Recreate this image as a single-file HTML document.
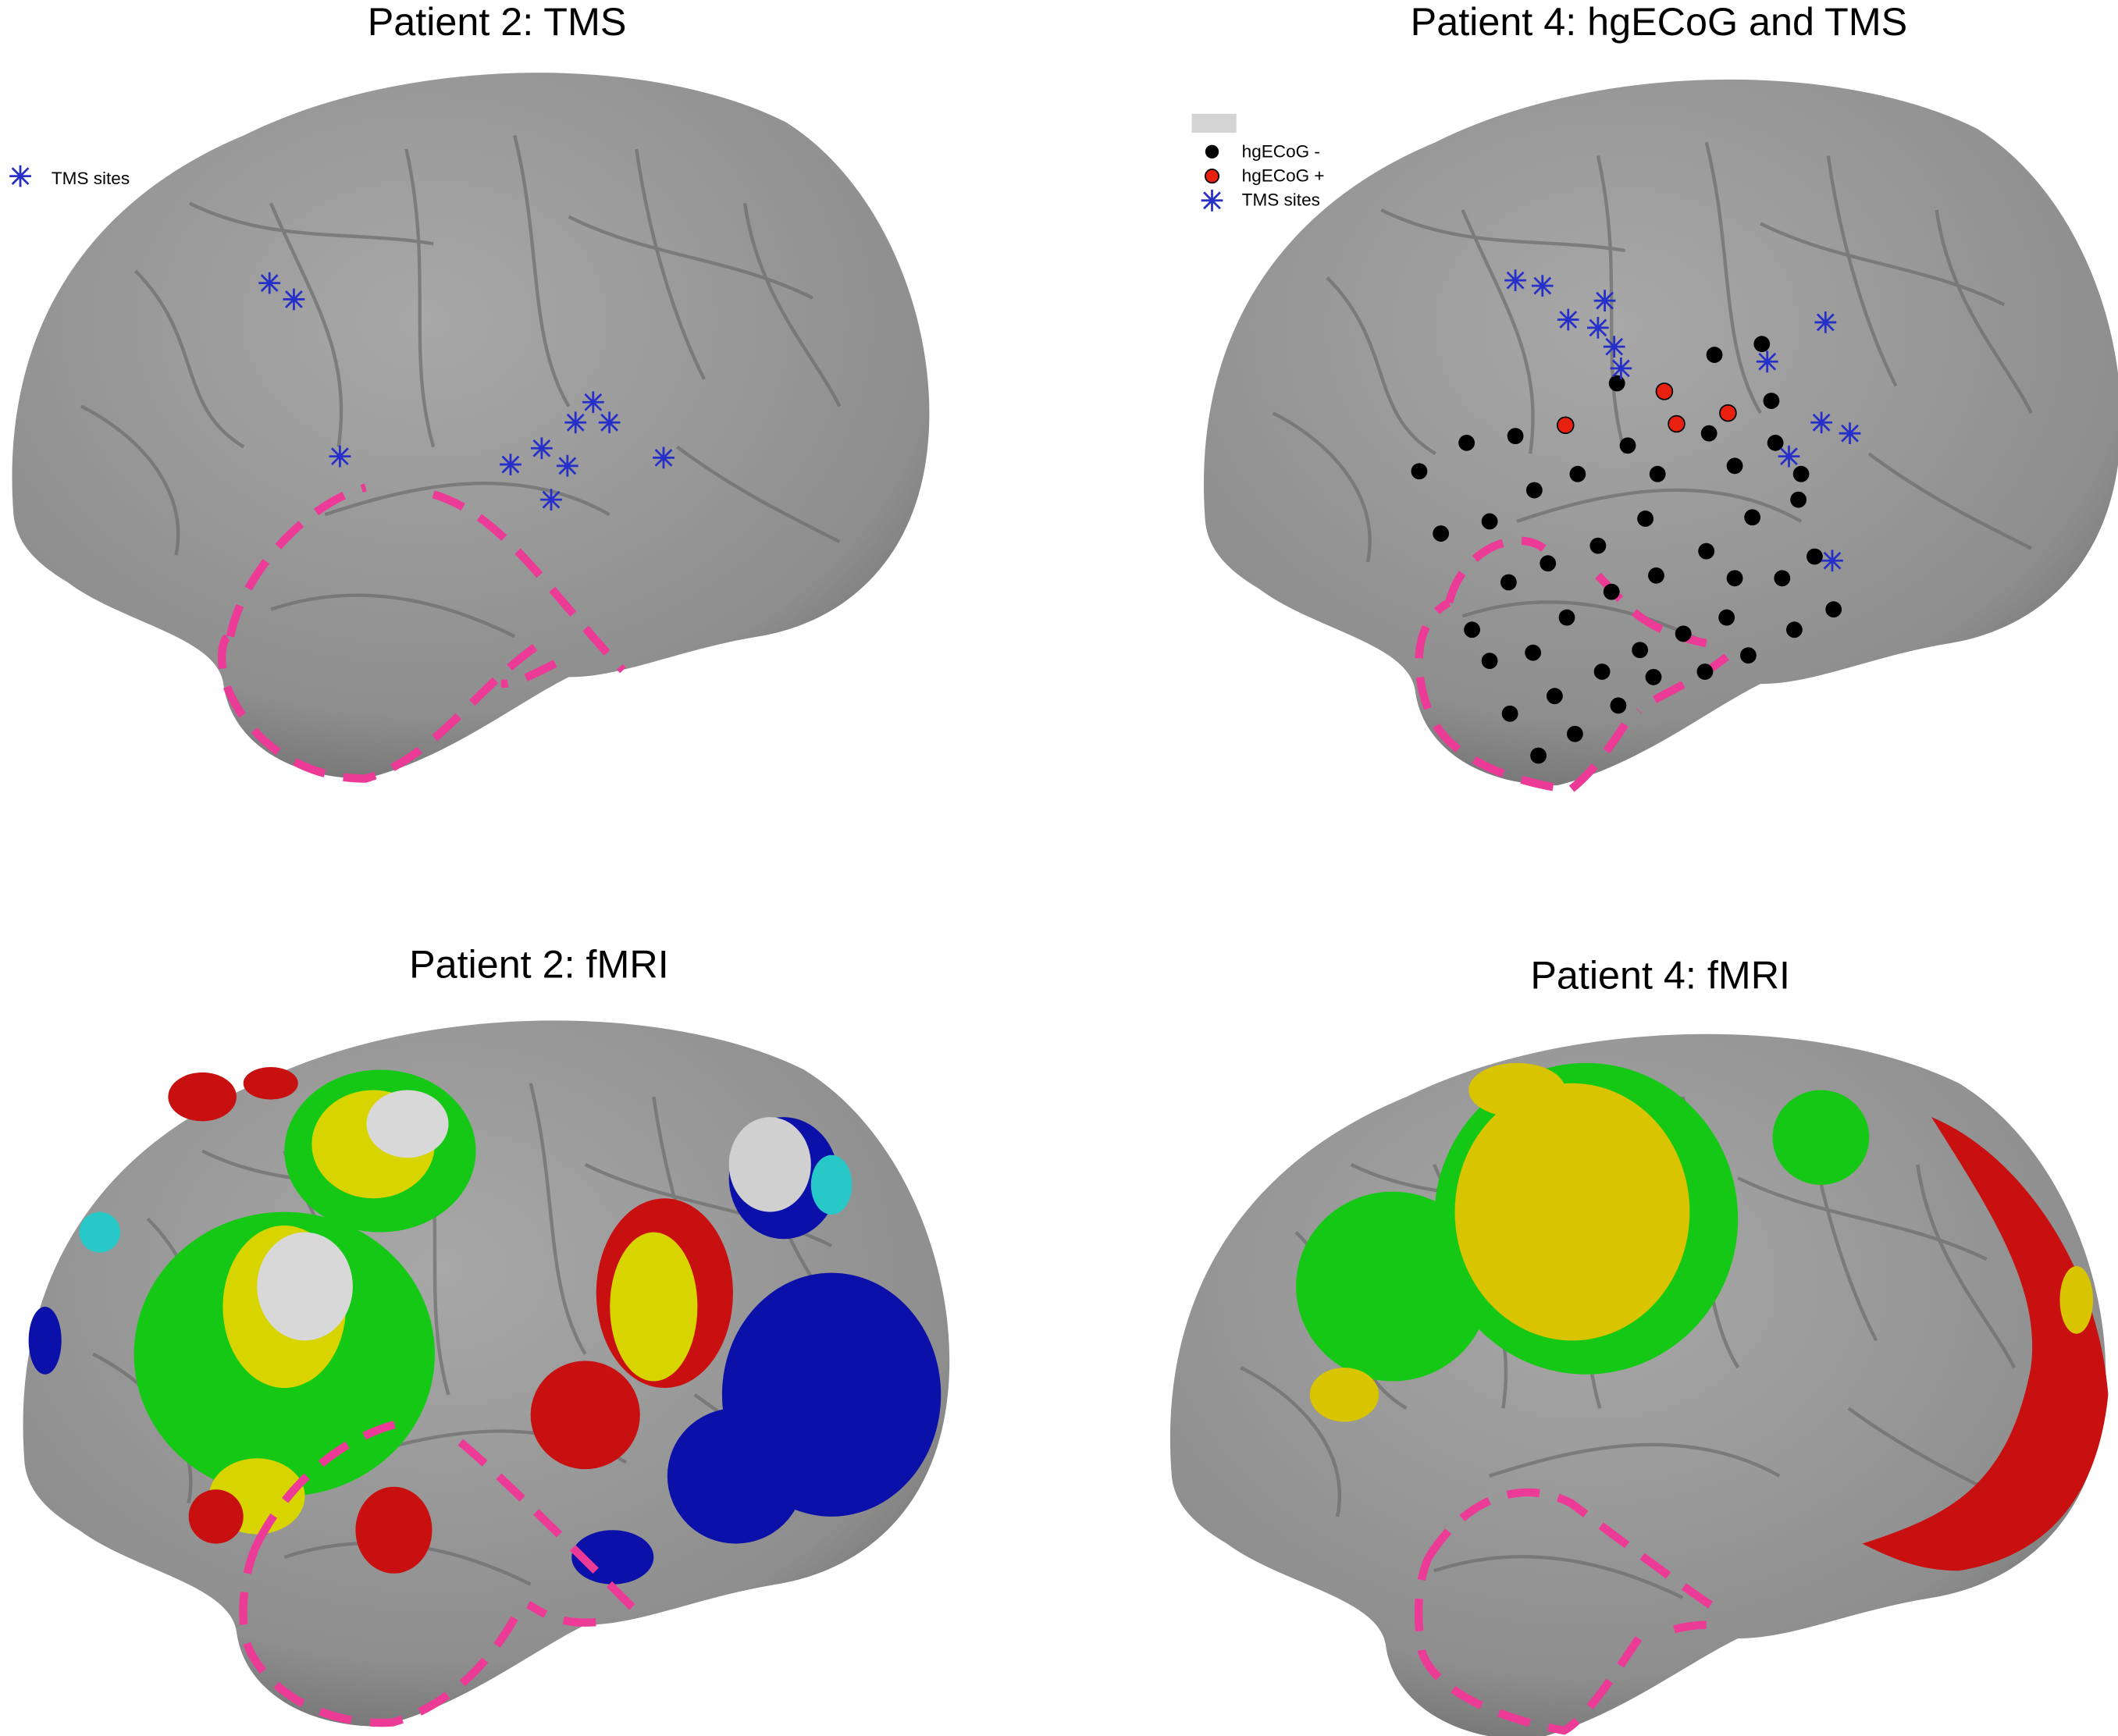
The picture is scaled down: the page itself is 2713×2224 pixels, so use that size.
<!DOCTYPE html>
<html><head><meta charset="utf-8"><style>
html,body{margin:0;padding:0;background:#fff}
svg{display:block}
text{font-family:"Liberation Sans",sans-serif}
</style></head><body>
<svg width="2713" height="2224" viewBox="0 0 1564 1282" xmlns="http://www.w3.org/2000/svg">
<defs>
<radialGradient id="g" cx="45%" cy="35%" r="70%"><stop offset="0" stop-color="#a8a8a8"/><stop offset="0.8" stop-color="#8e8e8e"/><stop offset="1" stop-color="#6f6f6f"/></radialGradient>
<g id="star"><path d="M-8,0H8M0,-8V8M-6,-6L6,6M-6,6L6,-6" stroke="#2630c8" stroke-width="1.6"/></g>
<path id="brain" d="M10,380 C0,250 60,150 180,100 C300,40 480,40 580,90 C660,140 700,260 682,350 C668,420 620,460 560,470 C500,480 460,500 420,500 C380,520 330,560 270,575 C210,575 170,545 165,505 C160,470 90,460 50,430 C25,415 12,400 10,380 Z"/>
<g id="sulci" fill="none" stroke="#6c6c6c" stroke-width="2.5" opacity="0.7">
<path d="M100,200 C150,250 130,300 180,330 M200,150 C230,220 260,260 250,330 M300,110 C320,200 300,260 320,330 M380,100 C400,180 390,250 420,300 M470,110 C480,180 500,240 520,280 M550,150 C560,220 600,260 620,300 M60,300 C100,320 140,360 130,410 M240,380 C300,360 380,340 450,380 M500,330 C540,360 580,380 620,400 M200,450 C260,430 320,440 380,470 M140,150 C200,180 260,170 320,180 M420,160 C480,190 540,190 600,220"/>
</g>
</defs>

<text x="367" y="26" font-size="29" text-anchor="middle" fill="#000">Patient 2: TMS</text>
<text x="1225" y="26" font-size="29" text-anchor="middle" fill="#000">Patient 4: hgECoG and TMS</text>
<text x="398" y="722" font-size="29" text-anchor="middle" fill="#000">Patient 2: fMRI</text>
<text x="1226" y="730" font-size="29" text-anchor="middle" fill="#000">Patient 4: fMRI</text>

<!-- Brain 1 -->
<g>
<use href="#brain" fill="url(#g)"/>
<use href="#sulci"/>
<path d="M170,470 C180,420 230,370 270,360 M320,365 C370,380 400,430 460,495 M410,490 C390,500 380,505 370,505 M395,478 C350,510 320,560 270,575 C220,575 180,545 165,500 C162,480 165,470 170,470" fill="none" stroke="#ec3a97" stroke-width="6" stroke-dasharray="24 14"/>
<use href="#star" x="15" y="130"/>
<text x="38" y="136" font-size="13">TMS sites</text>
<use href="#star" x="199" y="209"/><use href="#star" x="217" y="221"/>
<use href="#star" x="251" y="337"/><use href="#star" x="438" y="297"/><use href="#star" x="425" y="312"/>
<use href="#star" x="450" y="312"/><use href="#star" x="400" y="331"/><use href="#star" x="377" y="343"/>
<use href="#star" x="419" y="344"/><use href="#star" x="490" y="338"/><use href="#star" x="407" y="369"/>
</g>

<!-- Brain 2 -->
<g transform="translate(880,5)">
<use href="#brain" fill="url(#g)"/>
<use href="#sulci"/>
<path d="M190,440 C200,400 240,385 260,400 M300,420 C320,440 330,460 380,470 M395,480 C370,500 340,510 330,520 M320,530 C300,560 290,570 280,578 C250,575 190,560 175,520 C160,480 170,450 190,440" fill="none" stroke="#ec3a97" stroke-width="6" stroke-dasharray="24 14"/>
</g>
<rect x="880" y="84" width="33" height="14" fill="#d4d4d4"/>
<circle cx="895" cy="112" r="5" fill="#000"/><text x="917" y="116" font-size="13">hgECoG -</text>
<circle cx="895" cy="130" r="5" fill="#e8200f" stroke="#000" stroke-width="1"/><text x="917" y="134" font-size="13">hgECoG +</text>
<use href="#star" x="895" y="148"/><text x="917" y="152" font-size="13">TMS sites</text>
<g fill="#000">
<circle cx="1301" cy="254" r="6"/><circle cx="1266" cy="262" r="6"/><circle cx="1194" cy="283" r="6"/><circle cx="1308" cy="296" r="6"/>
<circle cx="1083" cy="327" r="6"/><circle cx="1119" cy="322" r="6"/><circle cx="1202" cy="329" r="6"/><circle cx="1262" cy="320" r="6"/><circle cx="1311" cy="327" r="6"/>
<circle cx="1048" cy="348" r="6"/><circle cx="1165" cy="350" r="6"/><circle cx="1224" cy="350" r="6"/><circle cx="1281" cy="344" r="6"/><circle cx="1330" cy="350" r="6"/>
<circle cx="1133" cy="362" r="6"/><circle cx="1064" cy="394" r="6"/><circle cx="1100" cy="385" r="6"/><circle cx="1215" cy="383" r="6"/><circle cx="1294" cy="382" r="6"/><circle cx="1328" cy="369" r="6"/>
<circle cx="1143" cy="416" r="6"/><circle cx="1180" cy="403" r="6"/><circle cx="1260" cy="407" r="6"/><circle cx="1340" cy="411" r="6"/>
<circle cx="1114" cy="430" r="6"/><circle cx="1190" cy="437" r="6"/><circle cx="1223" cy="425" r="6"/><circle cx="1281" cy="427" r="6"/><circle cx="1316" cy="427" r="6"/>
<circle cx="1087" cy="465" r="6"/><circle cx="1157" cy="456" r="6"/><circle cx="1243" cy="468" r="6"/><circle cx="1275" cy="456" r="6"/><circle cx="1325" cy="465" r="6"/><circle cx="1354" cy="450" r="6"/>
<circle cx="1100" cy="488" r="6"/><circle cx="1132" cy="482" r="6"/><circle cx="1211" cy="480" r="6"/><circle cx="1291" cy="484" r="6"/>
<circle cx="1148" cy="514" r="6"/><circle cx="1183" cy="496" r="6"/><circle cx="1221" cy="500" r="6"/><circle cx="1259" cy="496" r="6"/>
<circle cx="1115" cy="527" r="6"/><circle cx="1195" cy="521" r="6"/><circle cx="1163" cy="542" r="6"/><circle cx="1136" cy="558" r="6"/>
</g>
<g fill="#e8200f" stroke="#000" stroke-width="1">
<circle cx="1229" cy="289" r="6"/><circle cx="1156" cy="314" r="6"/><circle cx="1238" cy="313" r="6"/><circle cx="1276" cy="305" r="6"/>
</g>
<use href="#star" x="1119" y="207"/><use href="#star" x="1139" y="211"/><use href="#star" x="1185" y="222"/><use href="#star" x="1158" y="236"/>
<use href="#star" x="1180" y="242"/><use href="#star" x="1192" y="256"/><use href="#star" x="1197" y="272"/><use href="#star" x="1305" y="267"/>
<use href="#star" x="1348" y="238"/><use href="#star" x="1345" y="312"/><use href="#star" x="1366" y="320"/><use href="#star" x="1321" y="337"/><use href="#star" x="1353" y="414"/>

<!-- Brain 3 -->
<g transform="translate(8,700) scale(1.01,1.0)">
<use href="#brain" fill="url(#g)"/>
<use href="#sulci"/>
<ellipse cx="600" cy="330" rx="80" ry="90" fill="#0a10a8"/>
<ellipse cx="530" cy="390" rx="50" ry="50" fill="#0a10a8"/>
<ellipse cx="440" cy="450" rx="30" ry="20" fill="#0a10a8"/>
<ellipse cx="565" cy="170" rx="40" ry="45" fill="#0a10a8"/>
<ellipse cx="555" cy="160" rx="30" ry="35" fill="#d0d0d0"/>
<ellipse cx="600" cy="175" rx="15" ry="22" fill="#28c8c8"/>
<ellipse cx="200" cy="300" rx="110" ry="105" fill="#16c816"/>
<ellipse cx="270" cy="150" rx="70" ry="60" fill="#16c816"/>
<ellipse cx="265" cy="145" rx="45" ry="40" fill="#d8d400"/>
<ellipse cx="290" cy="130" rx="30" ry="25" fill="#d8d8d8"/>
<ellipse cx="200" cy="265" rx="45" ry="60" fill="#d8d400"/>
<ellipse cx="215" cy="250" rx="35" ry="40" fill="#d8d8d8"/>
<ellipse cx="180" cy="405" rx="35" ry="28" fill="#d8d400"/>
<ellipse cx="150" cy="420" rx="20" ry="20" fill="#c81010"/>
<ellipse cx="280" cy="430" rx="28" ry="32" fill="#c81010"/>
<ellipse cx="478" cy="255" rx="50" ry="70" fill="#c81010"/>
<ellipse cx="470" cy="265" rx="32" ry="55" fill="#d8d400"/>
<ellipse cx="420" cy="345" rx="40" ry="40" fill="#c81010"/>
<ellipse cx="140" cy="110" rx="25" ry="18" fill="#c81010"/>
<ellipse cx="190" cy="100" rx="20" ry="12" fill="#c81010"/>
<ellipse cx="65" cy="210" rx="15" ry="15" fill="#28c8c8"/>
<ellipse cx="25" cy="290" rx="12" ry="25" fill="#0a10a8"/>
</g>
<path d="M190,1140 C210,1100 250,1060 300,1050 M340,1065 C370,1090 420,1140 470,1190 M440,1198 C410,1200 400,1190 390,1185 M380,1195 C360,1230 330,1260 290,1272 C240,1275 200,1250 185,1220 C175,1200 180,1160 190,1140" fill="none" stroke="#ec3a97" stroke-width="6" stroke-dasharray="24 14"/>

<!-- Brain 4 -->
<g transform="translate(855,710) scale(1.02,1.0)">
<use href="#brain" fill="url(#g)"/>
<use href="#sulci"/>
<ellipse cx="170" cy="240" rx="70" ry="70" fill="#16c816"/>
<ellipse cx="310" cy="190" rx="110" ry="115" fill="#16c816"/>
<ellipse cx="300" cy="185" rx="85" ry="95" fill="#d8c400"/>
<ellipse cx="260" cy="95" rx="35" ry="20" fill="#d8c400"/>
<ellipse cx="480" cy="130" rx="35" ry="35" fill="#16c816"/>
<path d="M560,115 C620,140 680,220 688,320 C680,400 640,440 580,450 C550,450 530,440 510,430 C570,410 615,390 632,300 C640,240 600,180 560,115Z" fill="#c81010"/>
<ellipse cx="665" cy="250" rx="12" ry="25" fill="#d8c400"/>
<ellipse cx="135" cy="320" rx="25" ry="20" fill="#d8c400"/>
</g>
<path d="M1055,1150 C1080,1110 1120,1090 1160,1110 C1200,1140 1240,1170 1270,1190 M1260,1200 C1250,1200 1240,1202 1230,1205 M1210,1210 C1190,1240 1170,1270 1155,1278 C1110,1270 1060,1250 1050,1220 C1045,1190 1048,1165 1055,1150" fill="none" stroke="#ec3a97" stroke-width="6" stroke-dasharray="24 14"/>
</svg>
</body></html>
